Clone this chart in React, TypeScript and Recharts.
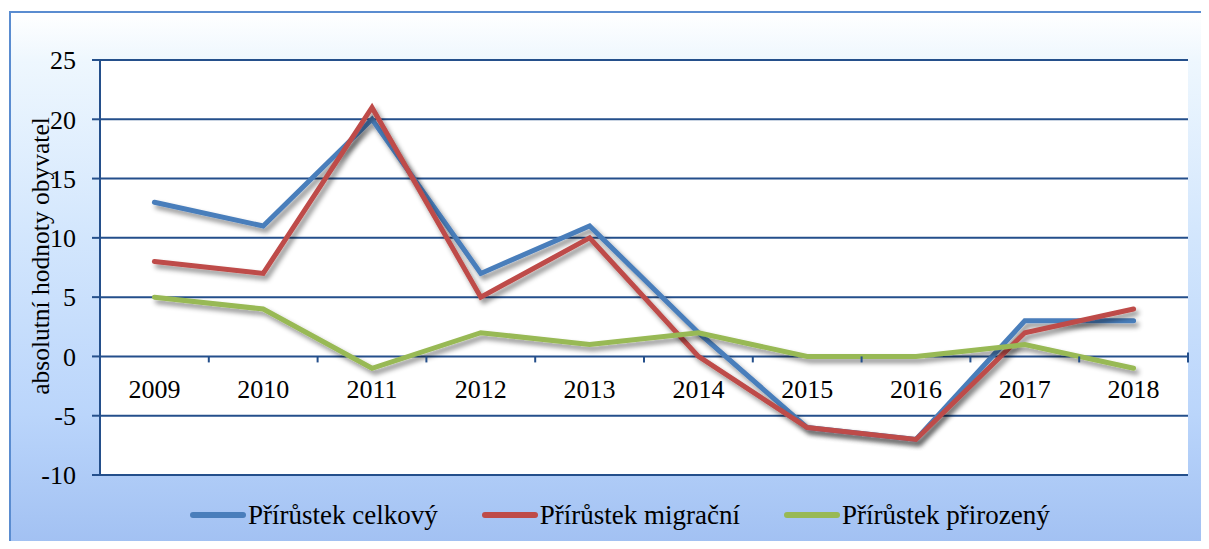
import React from 'react';
import { LineChart, Line, XAxis, YAxis, CartesianGrid } from 'recharts';

const years = ['2009', '2010', '2011', '2012', '2013', '2014', '2015', '2016', '2017', '2018'];
const celkovy = [13, 11, 20, 7, 11, 2, -6, -7, 3, 3];
const migracni = [8, 7, 21, 5, 10, 0, -6, -7, 2, 4];
const prirozeny = [5, 4, -1, 2, 1, 2, 0, 0, 1, -1];
const yTicks = [-10, -5, 0, 5, 10, 15, 20, 25];

const series = [
  { key: 'celkovy', name: 'Přírůstek celkový', color: '#4a7ebb' },
  { key: 'migracni', name: 'Přírůstek migrační', color: '#be4b48' },
  { key: 'prirozeny', name: 'Přírůstek přirozený', color: '#98b954' },
];

const data = years.map((year, i) => ({
  year,
  celkovy: celkovy[i],
  migracni: migracni[i],
  prirozeny: prirozeny[i],
}));

const W = 1209;
const H = 549;
const X_AXIS_H = 1;
const M = { top: 60, right: 21, bottom: 74 - X_AXIS_H, left: 0 };
const Y_AXIS_W = 100;
const PLOT_W = W - M.left - M.right - Y_AXIS_W;
const PLOT_H = H - M.top - M.bottom - X_AXIS_H;
const Y_MIN = -10;
const Y_MAX = 25;
// the category axis crosses at zero, like the original
const ZERO_Y = M.top + (PLOT_H * Y_MAX) / (Y_MAX - Y_MIN);
const BAND = PLOT_W / years.length;

const FONT = "'Liberation Serif', Tinos, 'Times New Roman', 'DejaVu Serif', 'Noto Serif', serif";
const NAVY = '#244f8b';

const XTick = (props: any) => {
  const { x, payload, index } = props;
  return (
    <g>
      <text x={x} y={ZERO_Y + 42} textAnchor="middle" style={{ fontFamily: FONT, fontSize: 26 }} fill="#000">
        {payload.value}
      </text>
      {index > 0 && <line x1={x - BAND / 2} x2={x - BAND / 2} y1={ZERO_Y} y2={ZERO_Y + 6} stroke={NAVY} strokeWidth={2} />}
      {index === years.length - 1 && (
        <line x1={x + BAND / 2} x2={x + BAND / 2} y1={ZERO_Y - 4} y2={ZERO_Y + 6} stroke={NAVY} strokeWidth={2} />
      )}
    </g>
  );
};

const YLabel = () => (
  <text
    x={49}
    y={256}
    transform="rotate(-90 49 256)"
    textAnchor="middle"
    style={{ fontFamily: FONT, fontSize: 25.5 }}
    fill="#000"
  >
    absolutní hodnoty obyvatel
  </text>
);

export default function App() {
  return (
    <div style={{ position: 'relative', width: W, height: H, margin: -8, overflow: 'hidden', background: '#fff', fontFamily: FONT }}>
      <svg width={0} height={0} style={{ position: 'absolute' }}>
        <defs>
          <filter id="lineShadow" x="-10%" y="-10%" width="120%" height="130%">
            <feDropShadow dx={3} dy={4} stdDeviation={2.5} floodColor="#000" floodOpacity={0.45} />
          </filter>
        </defs>
      </svg>
      <div
        style={{
          position: 'absolute',
          left: 9,
          top: 11,
          right: 0,
          bottom: 0,
          borderTop: '2px solid #5a8cd0',
          borderLeft: '2px solid #5a8cd0',
          background: 'linear-gradient(180deg, #ffffff 0%, #eef7fe 9%, #d4e7fd 40%, #bad5fb 75%, #a1c0f2 100%)',
        }}
      />
      <div style={{ position: 'absolute', left: 0, top: 0 }}>
        <LineChart width={W} height={H} data={data} margin={M}>
          <CartesianGrid horizontal vertical={false} stroke={NAVY} strokeWidth={2} fill="#ffffff" fillOpacity={1} />
          <XAxis
            dataKey="year"
            height={X_AXIS_H}
            padding={{ left: BAND / 2, right: BAND / 2 }}
            axisLine={{ stroke: NAVY, strokeWidth: 2 }}
            tickLine={false}
            tick={(p: any) => <XTick {...p} />}
            interval={0}
          />
          <YAxis
            type="number"
            domain={[Y_MIN, Y_MAX]}
            ticks={yTicks}
            width={Y_AXIS_W}
            axisLine={{ stroke: NAVY, strokeWidth: 2 }}
            tickLine={{ stroke: NAVY, strokeWidth: 2 }}
            tickSize={8}
            tickMargin={16}
            tick={{ style: { fontFamily: FONT, fontSize: 26 }, fill: '#000' }}
            label={<YLabel />}
          />
          {series.map(s => (
            <Line
              key={s.key}
              dataKey={s.key}
              name={s.name}
              stroke={s.color}
              strokeWidth={5}
              strokeLinecap="round"
              dot={false}
              activeDot={false}
              type="linear"
              isAnimationActive={false}
              style={{ filter: 'url(#lineShadow)' }}
            />
          ))}
        </LineChart>
      </div>
      <div
        style={{
          position: 'absolute',
          left: 190,
          top: 500,
          height: 30,
          display: 'flex',
          alignItems: 'center',
          gap: 44,
          fontFamily: FONT,
          fontSize: 27,
          color: '#000',
        }}
      >
        {series.map(s => (
          <div key={s.key} style={{ display: 'flex', alignItems: 'center' }}>
            <div style={{ width: 56, height: 6, borderRadius: 3, background: s.color, marginRight: 2 }} />
            <span>{s.name}</span>
          </div>
        ))}
      </div>
    </div>
  );
}
